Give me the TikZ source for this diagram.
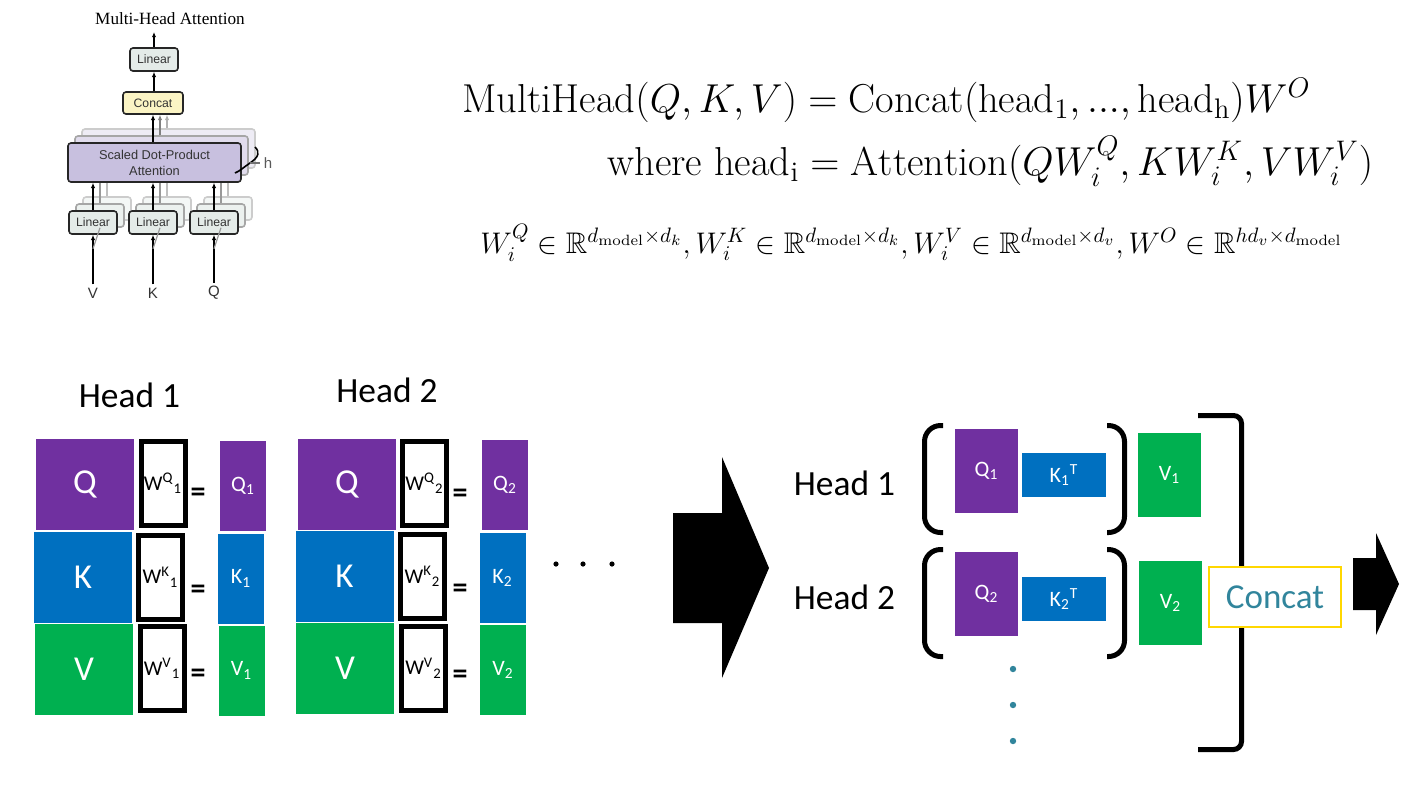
\RequirePackage{fix-cm}
\documentclass[tikz,border=0pt]{standalone}
\usepackage{amsmath}
\usepackage{amssymb}
\usepackage{fontspec}
\usetikzlibrary{arrows.meta}
\newfontfamily\calibrifont{Carlito}
\newfontfamily\helvfont{Liberation Sans}
\newfontfamily\timesfont{Liberation Serif}
\definecolor{qpurple}{HTML}{7030A0}
\definecolor{kblue}{HTML}{0070C0}
\definecolor{vgreen}{HTML}{00B050}
\definecolor{concatteal}{HTML}{31859C}
\definecolor{concatgold}{HTML}{FFD700}
\definecolor{linfill}{HTML}{E4EBE8}
\definecolor{catfill}{HTML}{FBF4C4}
\definecolor{attfill}{HTML}{C8C0DF}
\pgfdeclarelayer{background}
\pgfsetlayers{background,main}
\tikzset{
  arr/.style={-{Latex[length=2.6pt,width=2.2pt]}, line width=0.7pt},
  linbox/.style={draw=black!85, line width=0.8pt, rounded corners=1.5pt, fill=linfill, minimum width=24pt, minimum height=11.5pt, inner sep=0pt, text=black!80, font=\helvfont\fontsize{6.1}{7}\selectfont},
  catbox/.style={linbox, fill=catfill, minimum width=30pt, minimum height=11pt},
  attbox/.style={linbox, fill=attfill, minimum width=86.5pt, minimum height=19.5pt, align=center, font=\helvfont\fontsize{6.4}{8}\selectfont},
  inlbl/.style={inner sep=1.5pt, text=black!80, font=\helvfont\fontsize{7.5}{9}\selectfont},
  mat/.style={inner sep=0pt, text=white, minimum width=49pt, minimum height=45.5pt, font=\calibrifont\fontsize{17.5}{20}\selectfont},
  wbox/.style={draw=black, line width=2.5pt, fill=white, minimum width=22pt, minimum height=42pt, inner sep=0pt, font=\calibrifont\fontsize{10.5}{12}\selectfont},
  proj/.style={inner sep=0pt, text=white, minimum width=23pt, minimum height=45pt, font=\calibrifont\fontsize{11}{13}\selectfont},
  eqsign/.style={inner sep=0pt, font=\calibrifont\bfseries\fontsize{15}{18}\selectfont},
  headlbl/.style={inner sep=0pt, font=\calibrifont\fontsize{17.7}{21}\selectfont},
  brk/.style={line width=2.5pt, rounded corners=8pt},
  formula/.style={anchor=base west, inner sep=0pt, font=\fontsize{20.2}{24}\selectfont}
}
\begin{document}
\begin{tikzpicture}[x=0.5pt, y=-0.5pt]
\begin{pgfonlayer}{background}
\path[fill=white] (0,0) rectangle (1408,784);
\useasboundingbox (0,0) rectangle (1408,784);
% stacked copies behind the front boxes
\node[attbox, draw=black!20, fill=attfill!30] (attb2) at (168.5,148.5) {};
\node[attbox, draw=black!35, fill=attfill!55] (attb1) at (161.5,155.5) {};
\node[linbox, draw=black!20, fill=linfill!40] (linVb2) at (107,208.5) {};
\node[linbox, draw=black!35, fill=linfill!70] (linVb1) at (100,215.5) {};
\node[linbox, draw=black!20, fill=linfill!40] (linKb2) at (167,208.5) {};
\node[linbox, draw=black!35, fill=linfill!70] (linKb1) at (160,215.5) {};
\node[linbox, draw=black!20, fill=linfill!40] (linQb2) at (228,208.5) {};
\node[linbox, draw=black!35, fill=linfill!70] (linQb1) at (221,215.5) {};
\draw[black!40, line width=0.7pt] (linVb1.north) -- (linVb1.north |- attb1.south);
\draw[black!25, line width=0.7pt] (linVb2.north) -- (linVb2.north |- attb2.south);
\draw[black!40, line width=0.7pt] (linKb1.north) -- (linKb1.north |- attb1.south);
\draw[black!25, line width=0.7pt] (linKb2.north) -- (linKb2.north |- attb2.south);
\draw[black!40, line width=0.7pt] (linQb1.north) -- (linQb1.north |- attb1.south);
\draw[black!25, line width=0.7pt] (linQb2.north) -- (linQb2.north |- attb2.south);
\end{pgfonlayer}

% small multi-head attention block
\node[font=\timesfont\fontsize{8.6}{10}\selectfont, inner sep=0pt] (mhtitle) at (170,19) {Multi-Head Attention};
\coordinate (mhout) at (154,32);
\node[linbox] (linout) at (154,59.5) {Linear};
\node[catbox] (cat) at (153,103) {Concat};
\node[attbox] (att) at (154.5,162.5) {Scaled Dot-Product\\Attention};
\node[linbox] (linV) at (93,222.5) {Linear};
\node[linbox] (linK) at (153,222.5) {Linear};
\node[linbox] (linQ) at (214,222.5) {Linear};
\node[inlbl] (lblV) at (93,293) {V};
\node[inlbl] (lblK) at (153,293) {K};
\node[inlbl] (lblQ) at (214,293) {Q};
\node[inlbl, text=black!65] (lblh) at (268,163) {h};
\draw[arr] (linout.north) -- (mhout);
\draw[arr] (cat.north -| linout) -- (linout.south);
\draw[arr] (cat.south |- att.north) -- (cat.south);
\draw[arr, black!50] ([xshift=3.5pt]cat.south |- attb1.north) -- ([xshift=3.5pt]cat.south);
\draw[arr, black!30] ([xshift=7pt]cat.south |- attb2.north) -- ([xshift=7pt]cat.south);
\draw[arr] (linV.north) -- (linV.north |- att.south);
\draw[arr] (linK.north) -- (linK.north |- att.south);
\draw[arr] (linQ.north) -- (linQ.north |- att.south);
\draw[arr] (lblV.north) -- (linV.south);
\draw[arr] (lblK.north) -- (linK.south);
\draw[arr] (lblQ.north) -- (linQ.south);
\draw[black!40, line width=0.6pt] ([yshift=-7pt]linV.south) -- (linVb1.south);
\draw[black!40, line width=0.6pt] ([yshift=-7pt]linK.south) -- (linKb1.south);
\draw[black!40, line width=0.6pt] ([yshift=-7pt]linQ.south) -- (linQb1.south);
\draw[line width=0.8pt] (255,147) .. controls (260,152) and (259,157) .. (250,163) .. controls (244,167) and (240,171) .. (235,173);
\draw[black!55, line width=0.6pt] (250,163) -- (lblh.west);

% formulas
\node[formula] (mhead) at (462,112) {$\mathrm{MultiHead}(Q,K,V)=\mathrm{Concat}(\mathrm{head}_1,...,\mathrm{head}_\mathrm{h})W^O$};
\node[formula] (headi) at (607,175) {$\text{where }\mathrm{head}_\mathrm{i}=\mathrm{Attention}(QW_i^Q,KW_i^K,VW_i^V)$};
\node[formula, font=\fontsize{14.9}{17}\selectfont] (dims) at (480,253) {$W_i^Q\in\mathbb{R}^{d_\text{model}\times d_k},W_i^K\in\mathbb{R}^{d_\text{model}\times d_k},W_i^V\in\mathbb{R}^{d_\text{model}\times d_v},W^O\in\mathbb{R}^{hd_v\times d_\text{model}}$};

% head 1
\node[headlbl] (heada) at (129.5,395) {Head 1};
\node[mat, fill=qpurple] (qa) at (85,484.5) {Q};
\node[mat, fill=kblue] (ka) at (83,577.5) {K};
\node[mat, fill=vgreen] (va) at (84,669.5) {V};
\node[wbox] (wqa) at (163,483.5) {W\textsuperscript{Q}\textsubscript{1}};
\node[wbox] (wka) at (160.5,577) {W\textsuperscript{K}\textsubscript{1}};
\node[wbox] (wva) at (162,668.5) {W\textsuperscript{V}\textsubscript{1}};
\node[eqsign] (eqqa) at (198,495) {=};
\node[eqsign] (eqka) at (198,592) {=};
\node[eqsign] (eqva) at (198,676) {=};
\node[proj, fill=qpurple] (qpa) at (243,486) {Q\textsubscript{1}};
\node[proj, fill=kblue] (kpa) at (241,578.5) {K\textsubscript{1}};
\node[proj, fill=vgreen] (vpa) at (241.5,670.5) {V\textsubscript{1}};

% head 2
\node[headlbl] (headb) at (387,390) {Head 2};
\node[mat, fill=qpurple] (qb) at (347,484) {Q};
\node[mat, fill=kblue] (kb) at (344.5,576.5) {K};
\node[mat, fill=vgreen] (vb) at (345,668) {V};
\node[wbox] (wqb) at (424.5,483.5) {W\textsuperscript{Q}\textsubscript{2}};
\node[wbox] (wkb) at (422.5,576.5) {W\textsuperscript{K}\textsubscript{2}};
\node[wbox] (wvb) at (423.5,668) {W\textsuperscript{V}\textsubscript{2}};
\node[eqsign] (eqqb) at (460,496) {=};
\node[eqsign] (eqkb) at (460,591) {=};
\node[eqsign] (eqvb) at (460,677) {=};
\node[proj, fill=qpurple] (qpb) at (505,485) {Q\textsubscript{2}};
\node[proj, fill=kblue] (kpb) at (502.5,578) {K\textsubscript{2}};
\node[proj, fill=vgreen] (vpb) at (503,670) {V\textsubscript{2}};
\fill (556,564) circle (1.3pt);
\fill (583,564) circle (1.3pt);
\fill (612,564) circle (1.3pt);

% big arrow
\fill (673,513) -- (722,513) -- (722,457) -- (769,568) -- (722,678) -- (722,623) -- (673,623) -- cycle;

% attention per head
\node[headlbl] (headr1) at (844.5,483) {Head 1};
\node[headlbl] (headr2) at (844.5,597) {Head 2};
\node[proj, fill=qpurple, minimum width=31.5pt, minimum height=42pt] (qr1) at (986.5,471) {Q\textsubscript{1}};
\node[proj, fill=kblue, minimum width=42pt, minimum height=22pt] (kr1) at (1064,475) {K\textsubscript{1}\textsuperscript{T}};
\node[proj, fill=vgreen, minimum width=31.5pt, minimum height=42pt] (vr1) at (1169.5,475) {V\textsubscript{1}};
\node[proj, fill=qpurple, minimum width=31.5pt, minimum height=42pt] (qr2) at (986.5,594) {Q\textsubscript{2}};
\node[proj, fill=kblue, minimum width=42pt, minimum height=22pt] (kr2) at (1064,599) {K\textsubscript{2}\textsuperscript{T}};
\node[proj, fill=vgreen, minimum width=31.5pt, minimum height=42pt] (vr2) at (1170.5,603) {V\textsubscript{2}};
\draw[brk] (943,425.5) -- (924.5,425.5) -- (924.5,532.5) -- (943,532.5);
\draw[brk] (1107,425.5) -- (1124.5,425.5) -- (1124.5,532.5) -- (1107,532.5);
\draw[brk] (943,549.5) -- (924.5,549.5) -- (924.5,656.5) -- (943,656.5);
\draw[brk] (1107,549.5) -- (1124.5,549.5) -- (1124.5,656.5) -- (1107,656.5);
\fill[concatteal] (1013,669) circle (1.6pt);
\fill[concatteal] (1013,705) circle (1.6pt);
\fill[concatteal] (1013,741) circle (1.6pt);
\draw[brk, rounded corners=4pt] (1198,415.5) -- (1241.5,415.5) -- (1241.5,749.5) -- (1198,749.5);
\node[draw=concatgold, line width=1pt, fill=white, minimum width=66pt, minimum height=30pt, text=concatteal, font=\calibrifont\fontsize{17.5}{21}\selectfont] (catr) at (1275,597) {Concat};
\fill (1353,558) -- (1376,558) -- (1376,533) -- (1399,584) -- (1376,635) -- (1376,610) -- (1353,610) -- cycle;
\end{tikzpicture}
\end{document}
